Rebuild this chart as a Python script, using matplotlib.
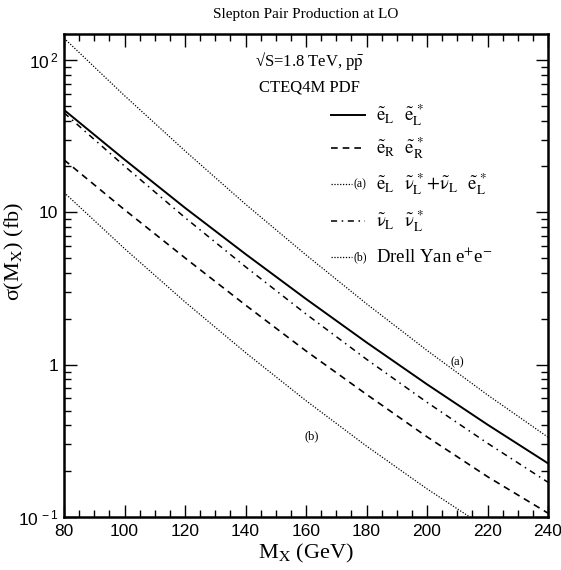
import matplotlib
matplotlib.use("Agg")
import matplotlib.pyplot as plt
from matplotlib.ticker import FixedLocator, FixedFormatter, MultipleLocator, LogLocator, NullFormatter

# Slepton pair cross sections at LO, Tevatron Run I
mass = [80, 100, 120, 140, 160, 180, 200, 220, 240]
sigma_eL_eL = [47.0, 22.2, 10.7, 5.32, 2.70, 1.40, 0.743, 0.404, 0.225]
sigma_eR_eR = [22.1, 10.4, 5.02, 2.46, 1.23, 0.638, 0.336, 0.184, 0.106]
sigma_eL_nuL = [139.0, 58.3, 25.3, 11.3, 5.25, 2.51, 1.24, 0.633, 0.334]
sigma_nuL_nuL = [45.0, 20.1, 9.23, 4.39, 2.15, 1.085, 0.566, 0.305, 0.169]
sigma_drell_yan = [13.5, 5.78, 2.58, 1.20, 0.58, 0.292, 0.153, 0.0838, 0.0477]

y_ticks = [0.1, 1, 10, 100]
y_tick_labels = [r"$10^{\,-1}$", "1", "10", r"$10^{\,2}$"]

plt.rcParams["font.family"] = "Liberation Serif"
plt.rcParams["mathtext.fontset"] = "custom"
plt.rcParams["mathtext.rm"] = "Liberation Sans"
plt.rcParams["mathtext.it"] = "Liberation Sans:italic"
plt.rcParams["mathtext.bf"] = "Liberation Sans:bold"

fig = plt.figure(figsize=(5.61, 5.70), dpi=100)
ax = fig.add_axes([64 / 561, 1 - 517 / 570, 484 / 561, 483 / 570])

solid = dict(color="black", lw=1.4, ls="-")
dashed = dict(color="black", lw=1.2, ls=(0, (4, 3)))
dotted = dict(color="black", lw=0.9, ls=(0, (1, 1.3)))
dashdot = dict(color="black", lw=1.1, ls=(0, (4, 3, 1, 3)))

ax.plot(mass, sigma_eL_eL, **solid)
ax.plot(mass, sigma_eR_eR, **dashed)
ax.plot(mass, sigma_eL_nuL, **dotted)
ax.plot(mass, sigma_nuL_nuL, **dashdot)
ax.plot(mass, sigma_drell_yan, **dotted)

ax.set_yscale("log")
ax.set_xlim(80, 240)
ax.set_ylim(0.1, 148)

ax.xaxis.set_major_locator(MultipleLocator(20))
ax.xaxis.set_minor_locator(MultipleLocator(5))
ax.yaxis.set_major_locator(FixedLocator(y_ticks))
ax.yaxis.set_major_formatter(FixedFormatter(y_tick_labels))
ax.yaxis.set_minor_locator(LogLocator(base=10, subs=range(2, 10)))
ax.yaxis.set_minor_formatter(NullFormatter())

ax.tick_params(which="both", direction="in", top=True, right=True, width=1.0)
ax.tick_params(which="major", length=9)
ax.tick_params(which="minor", length=5)
ax.tick_params(axis="x", which="major", labelsize=12.5, pad=5)
ax.tick_params(axis="y", which="major", labelsize=12.5, pad=4)
for lab in ax.get_xticklabels() + ax.get_yticklabels():
    lab.set_fontfamily("Liberation Sans")
for spine in ax.spines.values():
    spine.set_linewidth(1.8)

ax.set_xlabel(r"M$_\mathrm{X}$ (GeV)", fontsize=16, labelpad=2, math_fontfamily="stix")
ax.set_ylabel(r"σ(M$_\mathrm{X}$) (fb)", fontsize=16, math_fontfamily="stix")
ax.yaxis.set_label_coords(-0.078, 0.55)

fig.text(0.545, 0.975, "Slepton Pair Production at LO", ha="center", va="center", fontsize=11)
ax.text(0.508, 0.944, r"√S=1.8 TeV, p$\bar{\mathrm{p}}$", transform=ax.transAxes,
        ha="center", va="center", fontsize=12, math_fontfamily="stix")
ax.text(0.508, 0.89, "CTEQ4M PDF", transform=ax.transAxes,
        ha="center", va="center", fontsize=12)

# hand-placed legend: sample line, optional curve tag, then the label
gap = r"\enspace\;"
e_L = r"\tilde{\mathrm{e}}_\mathrm{L}"
e_R = r"\tilde{\mathrm{e}}_\mathrm{R}"
nu_L = r"\tilde{\mathrm{\nu}}_\mathrm{L}"
legend_rows = [
    (solid, None, "$" + e_L + gap + e_L + r"^{\,*}$"),
    (dashed, None, "$" + e_R + gap + e_R + r"^{\,*}$"),
    (dotted, "(a)", "$" + e_L + gap + nu_L + r"^{\,*}\!+\!" + nu_L + gap + e_L + r"^{\,*}$"),
    (dashdot, None, "$" + nu_L + gap + nu_L + r"^{\,*}$"),
    (dotted, "(b)", r"Drell Yan e$^{+}$e$^{-}$"),
]
row_y = [0.832, 0.764, 0.689, 0.613, 0.538]
for (style, tag, label), y in zip(legend_rows, row_y):
    x_end = 0.595 if tag else 0.622
    ax.plot([0.552, x_end], [y, y], transform=ax.transAxes, **style)
    if tag:
        ax.text(0.599, y, tag, transform=ax.transAxes, ha="left", va="center", fontsize=8.5)
    ax.text(0.645, y - 0.012, label, transform=ax.transAxes, ha="left", va="baseline",
            fontsize=13.5, math_fontfamily="stix")

# curve tags on the plot
ax.text(210, 1.03, "(a)", ha="center", va="center", fontsize=9)
ax.text(162, 0.34, "(b)", ha="center", va="center", fontsize=9)

fig.savefig("out.png", dpi=100, facecolor="white")
